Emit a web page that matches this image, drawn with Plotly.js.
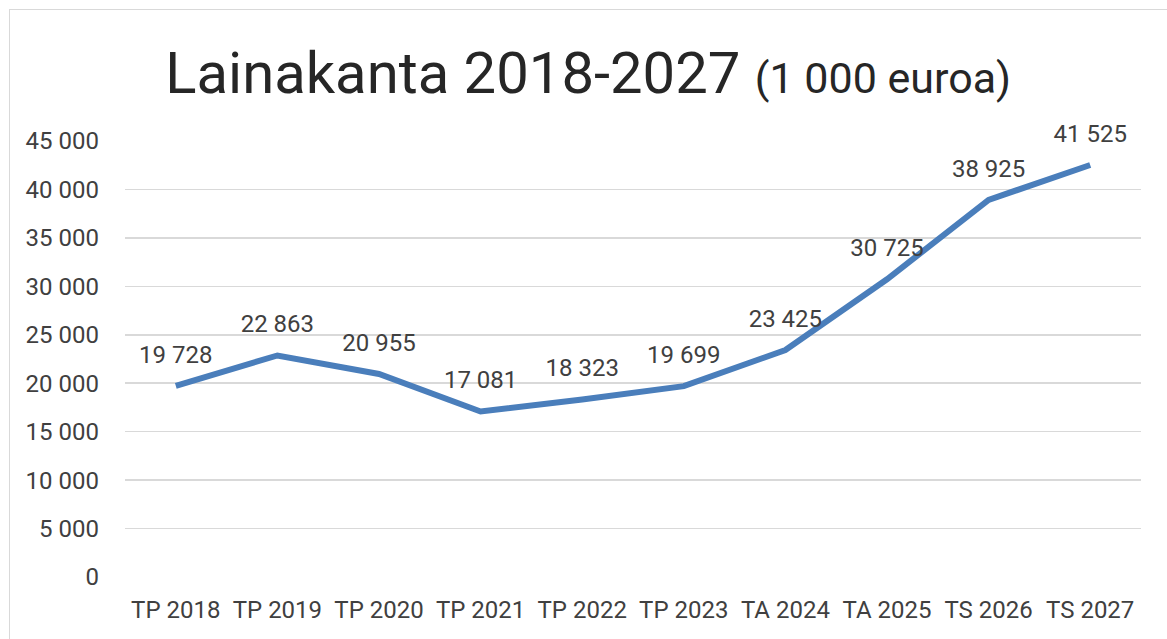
<!DOCTYPE html>
<html>
<head>
<meta charset="utf-8">
<script src="https://cdn.plot.ly/plotly-3.0.1.min.js"></script>
<style>
  html, body { margin:0; padding:0; background:#fff; overflow:hidden; }
  #chart { position:absolute; left:0; top:0; width:1167px; height:639px; }
  #frame { position:absolute; left:9px; top:9px; width:1200px; height:700px; border:1px solid #d9d9d9; pointer-events:none; }
</style>
</head>
<body>
<div id="chart"></div>
<div id="frame"></div>
<script>
const categories = ["TP 2018","TP 2019","TP 2020","TP 2021","TP 2022","TP 2023","TA 2024","TA 2025","TS 2026","TS 2027"];
const lainakanta = [19728, 22863, 20955, 17081, 18323, 19699, 23425, 30725, 38925, 42525];
const dataLabels = ["19 728","22 863","20 955","17 081","18 323","19 699","23 425","30 725","38 925","41 525"];
const tickValues = [0,5000,10000,15000,20000,25000,30000,35000,40000,45000];
const tickLabels = ["0","5 000","10 000","15 000","20 000","25 000","30 000","35 000","40 000","45 000"];

const FONT = '"Roboto", sans-serif';

Plotly.newPlot('chart', [{
  type: 'scatter',
  mode: 'lines+markers+text',
  x: categories,
  y: lainakanta,
  text: dataLabels,
  textposition: 'top center',
  textfont: { family: FONT, size: 24, color: '#404040' },
  line: { color: '#4a7ebb', width: 6 },
  marker: { size: 26, color: 'rgba(0,0,0,0)' },
  cliponaxis: false,
  hoverinfo: 'skip'
}], {
  width: 1167, height: 639,
  margin: { l: 125, r: 26, t: 141, b: 62 },
  paper_bgcolor: '#ffffff', plot_bgcolor: '#ffffff',
  showlegend: false,
  title: {
    text: 'Lainakanta 2018-2027 <span style="font-size:43px">(1 000 euroa)</span>',
    font: { family: FONT, size: 58, color: '#262626' },
    x: 0.504, xanchor: 'center',
    y: 0.887, yanchor: 'middle'
  },
  xaxis: {
    type: 'category',
    range: [-0.5, 9.5],
    showgrid: false, zeroline: false, showline: false,
    ticks: '',
    ticklabelstandoff: 16,
    tickfont: { family: FONT, size: 24, color: '#404040' },
    fixedrange: true
  },
  yaxis: {
    range: [0, 45000],
    tickvals: tickValues,
    ticktext: tickLabels,
    showgrid: true, gridcolor: '#d9d9d9', gridwidth: 1.5,
    zeroline: false, showline: false,
    ticks: '', ticklen: 0,
    ticklabelstandoff: 25,
    tickfont: { family: FONT, size: 24, color: '#404040' },
    fixedrange: true
  }
}, { displayModeBar: false, staticPlot: true });
</script>
</body>
</html>
